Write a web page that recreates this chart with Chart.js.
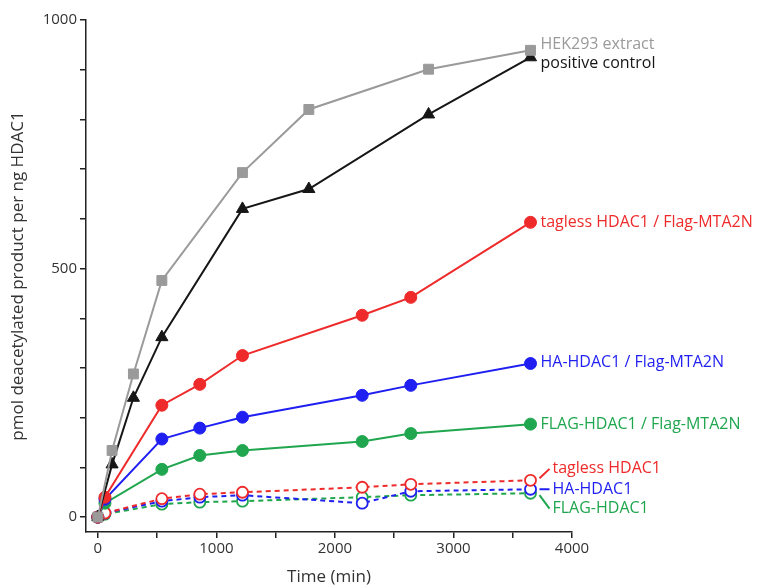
<!DOCTYPE html>
<html>
<head>
<meta charset="utf-8">
<script src="https://cdn.jsdelivr.net/npm/chart.js@4"></script>
<style>
  html, body { margin: 0; padding: 0; background: #fff; }
  #wrap { width: 783px; height: 587px; }
</style>
</head>
<body>
<div id="wrap"><canvas id="deacChart"></canvas></div>
<script>
// time points (min)
const timeExtract = [0, 120, 300, 540, 1220, 1780, 2790, 3650];
const timeHdac = [0, 60, 540, 860, 1220, 2230, 2640, 3650];

// pmol deacetylated product per ng HDAC1
const hek293 = [0, 134, 288, 476, 693, 820, 901, 939];
const positiveCtrl = [0, 106, 240, 362, 620, 660, 810, 925];
const taglessMta = [0, 40, 225, 267, 325, 406, 442, 593];
const haMta = [0, 36, 157, 179, 201, 245, 265, 309];
const flagMta = [0, 28, 96, 124, 134, 152, 168, 187];
const tagless = [0, 8, 37, 46, 50, 60, 66, 74];
const haHdac = [0, 8, 32, 40, 44, 28, 52, 56];
const flagHdac = [0, 6, 26, 30, 32, 40, 44, 48];

const xTicks = [0, 500, 1000, 1500, 2000, 2500, 3000, 3500, 4000];
const yTicks = [0, 100, 200, 300, 400, 500, 600, 700, 800, 900, 1000];

const RED = '#ee2a2a', BLUE = '#1f1ff2', GREEN = '#1fa64e', GRAY = '#9a9a9a', BLACK = '#161616';

function pts(xs, ys) {
    return xs.map((t, i) => ({ x: t, y: ys[i] }));
}

function solid(label, xs, ys, color, style, r) {
    return {
        label: label, data: pts(xs, ys),
        borderColor: color, backgroundColor: color, borderWidth: 2,
        pointStyle: style, pointRadius: r, pointBorderWidth: 1,
        pointBackgroundColor: color, pointBorderColor: color
    };
}

function open(label, ys, color) {
    return {
        label: label, data: pts(timeHdac, ys),
        borderColor: color, borderWidth: 2, borderDash: [5, 4],
        pointStyle: 'circle', pointRadius: 5.5, pointBorderWidth: 1.8,
        pointBackgroundColor: '#fff', pointBorderColor: color
    };
}

// text next to the last point of each curve (y in data units)
const seriesLabels = [
    { text: 'HEK293 extract', color: GRAY, y: 951, dx: 10 },
    { text: 'positive control', color: BLACK, y: 912, dx: 10 },
    { text: 'tagless HDAC1 / Flag-MTA2N', color: RED, y: 592, dx: 10 },
    { text: 'HA-HDAC1 / Flag-MTA2N', color: BLUE, y: 312, dx: 10 },
    { text: 'FLAG-HDAC1 / Flag-MTA2N', color: GREEN, y: 187, dx: 10 },
    { text: 'tagless HDAC1', color: RED, y: 97, dx: 22, from: 78 },
    { text: 'HA-HDAC1', color: BLUE, y: 56, dx: 22, from: 56 },
    { text: 'FLAG-HDAC1', color: GREEN, y: 17, dx: 22, from: 44 }
];

const labelPlugin = {
    id: 'seriesLabels',
    afterDatasetsDraw(chart) {
        const ctx = chart.ctx;
        const xs = chart.scales.x, ys = chart.scales.y;
        const x0 = xs.getPixelForValue(3650);
        ctx.save();
        ctx.font = '16px "Open Sans"';
        ctx.textBaseline = 'middle';
        seriesLabels.forEach(l => {
            const py = ys.getPixelForValue(l.y);
            if (l.from !== undefined) {
                ctx.strokeStyle = l.color;
                ctx.lineWidth = 2;
                ctx.beginPath();
                ctx.moveTo(x0 + 9, ys.getPixelForValue(l.from));
                ctx.lineTo(x0 + l.dx - 3, py);
                ctx.stroke();
            }
            ctx.fillStyle = l.color;
            ctx.fillText(l.text, x0 + l.dx, py);
        });
        ctx.restore();
    }
};

const axisColor = '#222';

new Chart(document.getElementById('deacChart'), {
    type: 'line',
    data: {
        datasets: [
            solid('HEK293 extract', timeExtract, hek293, GRAY, 'rect', 7),
            solid('positive control', timeExtract, positiveCtrl, BLACK, 'triangle', 7),
            solid('tagless HDAC1 / Flag-MTA2N', timeHdac, taglessMta, RED, 'circle', 6),
            solid('HA-HDAC1 / Flag-MTA2N', timeHdac, haMta, BLUE, 'circle', 6),
            solid('FLAG-HDAC1 / Flag-MTA2N', timeHdac, flagMta, GREEN, 'circle', 6),
            open('tagless HDAC1', tagless, RED),
            open('HA-HDAC1', haHdac, BLUE),
            open('FLAG-HDAC1', flagHdac, GREEN)
        ]
    },
    options: {
        responsive: true,
        maintainAspectRatio: false,
        animation: false,
        layout: { padding: { top: 20, right: 211, left: 0, bottom: 0 } },
        plugins: { legend: { display: false }, tooltip: { enabled: false } },
        scales: {
            x: {
                type: 'linear', min: -100, max: 4000,
                afterBuildTicks: s => { s.ticks = xTicks.map(v => ({ value: v })); },
                afterFit: s => { s.height = 55; },
                grid: { drawOnChartArea: false, drawTicks: true, tickLength: 6, color: axisColor, lineWidth: 1.5 },
                border: { display: true, color: axisColor, width: 1.5 },
                ticks: {
                    color: '#333', font: { family: 'Open Sans', size: 15 }, padding: 2,
                    maxRotation: 0, autoSkip: false,
                    callback: v => (v % 1000 === 0 ? v : '')
                },
                title: {
                    display: true, text: 'Time (min)', color: '#333',
                    font: { family: 'Open Sans', size: 17 }, padding: { top: 0, bottom: 0 }
                }
            },
            y: {
                type: 'linear', min: -30, max: 1000,
                afterBuildTicks: s => { s.ticks = yTicks.map(v => ({ value: v })); },
                afterFit: s => { s.width = 86; },
                grid: { drawOnChartArea: false, drawTicks: true, tickLength: 6, color: axisColor, lineWidth: 1.5 },
                border: { display: true, color: axisColor, width: 1.5 },
                ticks: {
                    color: '#333', font: { family: 'Open Sans', size: 15 }, padding: 3,
                    autoSkip: false,
                    callback: v => (v % 500 === 0 ? v : '')
                },
                title: {
                    display: true, text: 'pmol deacetylated product per ng HDAC1', color: '#333',
                    font: { family: 'Open Sans', size: 17 }, padding: { top: 8, bottom: 0 }
                }
            }
        }
    },
    plugins: [labelPlugin]
});
</script>
</body>
</html>
